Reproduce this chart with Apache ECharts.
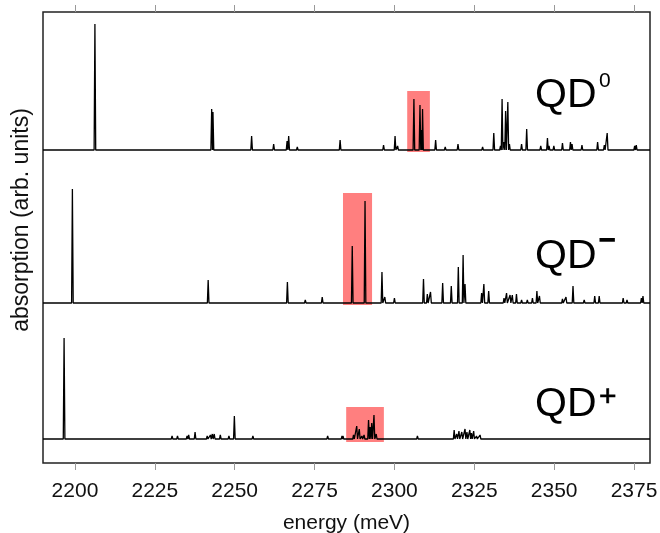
<!DOCTYPE html>
<html>
<head>
<meta charset="utf-8">
<script src="https://cdn.jsdelivr.net/npm/echarts@6/dist/echarts.min.js"></script>
<style>
html,body{margin:0;padding:0;background:#fff;}
#chart{width:660px;height:533px;}
</style>
</head>
<body>
<div id="chart"></div>
<script>
// ---- data ----
const xMin = 2190, xMax = 2380;
const tickLabels = [2200, 2225, 2250, 2275, 2300, 2325, 2350, 2375];

// vertical offsets (arb. units) of the three stacked spectra
const qd0Offset = 313;
const qdmOffset = 160;
const qdpOffset = 24;

// QD0 peaks: energy (meV) and height (arb. units)
const qd0Energy = [2206.25,2242.8,2243.2,2255.3,2262.2,2266.4,2266.9,2269.6,2283.0,2290.8,2296.6,2300.2,2301.0,2306.1,2308.0,2308.4,2308.8,2312.9,2315.9,2319.9,2327.6,2331.1,2333.2,2333.7,2334.3,2334.8,2335.5,2336.0,2339.8,2341.4,2343.4,2345.8,2347.9,2348.4,2349.9,2352.6,2355.1,2355.6,2358.7,2361.3,2363.6,2365.7,2366.6,2370.3,2372.1,2375.2,2375.7,2378.9];
const qd0Height = [126,41,38,14,6,9,14,3,10,2,5,14,4,51,45,20,41,10,3,6,3,17,4,51,8,39,48,6,6,21,2,4,12,4,4,7,8,6,5,2,8,5,17,2,2,4,5,2];

// QD- peaks
const qdmEnergy = [2199.2,2241.7,2266.5,2272.1,2277.4,2280.3,2286.8,2290.8,2296.1,2297.0,2300.0,2305.6,2309.1,2310.3,2311.3,2315.1,2317.8,2320.0,2321.5,2322.1,2327.3,2328.0,2329.5,2332.0,2334.3,2335.1,2336.2,2336.9,2338.2,2339.8,2341.6,2343.2,2344.6,2345.4,2348.7,2350.8,2352.6,2353.7,2355.9,2357.6,2359.4,2362.7,2364.1,2365.8,2367.4,2369.8,2371.6,2372.8,2374.7,2377.3,2377.8];
const qdmHeight = [114,23,21,3,6,1.5,57,102,31,6,5,1,24,9,11,20,17,36,48,19,10,19,12,2,5,10,8,8,9,3,3,5,12,7,2,2,4,6,17,2,3,7,7,2,2,2,5,3,2,5,7];

// QD+ peaks
const qdpEnergy = [2196.6,2227.1,2230.4,2232.1,2235.1,2235.6,2237.6,2241.4,2242.4,2243.0,2243.6,2245.5,2248.2,2249.9,2252.0,2255.7,2259.6,2262.7,2266.4,2270.0,2274.2,2279.1,2283.6,2283.9,2287.2,2288.2,2289.0,2289.8,2290.5,2291.9,2292.4,2292.9,2293.6,2294.3,2295.5,2299.7,2307.2,2310.1,2316.9,2318.7,2319.5,2320.2,2321.1,2322.1,2322.7,2323.6,2324.1,2324.8,2325.7,2326.8,2333.0,2339.3,2340.8,2347.6,2350.8,2355.9,2368.4,2371.6];
const qdpHeight = [101,2,3,3,3,4,7,3,4,5,5,4,3,23,2,3,1,1,2,1,1,3,3,3,4,13,10,3,4,19,12,16,24,5,2,1,3,2,2,9,5,8,7,10,7,9,6,8,3,4,1,2,2,1,1,1,1,1];

// highlighted regions: [energy from, energy to, value from, value to]
const boxQD0 = [2304.0, 2311.1, 311, 372];
const boxQDm = [2283.9, 2293.0, 158, 270];
const boxQDp = [2284.9, 2296.7, 21, 56];

// ---- build line data for the library ----
function buildLine(E, H, off) {
  const pts = [[xMin, off]];
  E.forEach((e, i) => {
    pts.push([e - 0.25, off], [e, off + H[i]], [e + 0.25, off]);
  });
  pts.push([xMax, off]);
  return pts;
}
function boxArea(b) {
  return [{ xAxis: b[0], yAxis: b[2] }, { xAxis: b[1], yAxis: b[3] }];
}

const FONT = 'Liberation Sans, Arial, Helvetica, sans-serif';
const chart = echarts.init(document.getElementById('chart'), null, { renderer: 'canvas' });

const lineSeries = (data) => ({
  type: 'line',
  data: data,
  showSymbol: false,
  symbol: 'none',
  z: 3,
  lineStyle: { color: '#000', width: 1.3 },
  silent: true
});

chart.setOption({
  animation: false,
  backgroundColor: '#fff',
  grid: {
    left: 43, right: 10, top: 12, bottom: 70,
    containLabel: false, outerBoundsMode: 'none',
    show: true, borderColor: '#222', borderWidth: 1.5, backgroundColor: 'transparent'
  },
  xAxis: [{
    type: 'value', min: xMin, max: xMax, position: 'bottom',
    axisLine: { show: false },
    splitLine: { show: false },
    axisTick: { show: true, customValues: tickLabels, length: 7, inside: false, lineStyle: { color: '#999', width: 1 } },
    axisLabel: { customValues: tickLabels, fontSize: 21, color: '#111', margin: 18, fontFamily: FONT, formatter: (v) => String(v) },
    name: 'energy (meV)', nameLocation: 'middle', nameGap: 50,
    nameTextStyle: { fontSize: 21, color: '#111', fontFamily: FONT }
  }, {
    type: 'value', min: xMin, max: xMax, position: 'top',
    axisLine: { show: false },
    splitLine: { show: false },
    axisTick: { show: true, customValues: tickLabels, length: 7, inside: false, lineStyle: { color: '#999', width: 1 } },
    axisLabel: { show: false }
  }],
  yAxis: {
    type: 'value', min: 0, max: 451,
    axisLine: { show: false }, axisTick: { show: false }, axisLabel: { show: false }, splitLine: { show: false }
  },
  series: [
    {
      type: 'line', data: [], z: 1, silent: true,
      markArea: {
        silent: true,
        itemStyle: { color: 'rgba(255,0,0,0.5)', borderWidth: 0 },
        data: [boxArea(boxQD0), boxArea(boxQDm), boxArea(boxQDp)]
      }
    },
    lineSeries(buildLine(qd0Energy, qd0Height, qd0Offset)),
    lineSeries(buildLine(qdmEnergy, qdmHeight, qdmOffset)),
    lineSeries(buildLine(qdpEnergy, qdpHeight, qdpOffset))
  ],
  graphic: [
    { type: 'text', x: 22, y: 220, rotation: Math.PI / 2, style: { text: 'absorption (arb. units)', fontSize: 23, fontFamily: FONT, fill: '#111', textAlign: 'center', verticalAlign: 'middle' } },
    { type: 'text', x: 535, y: 96, style: { text: 'QD', fontSize: 41, fontFamily: FONT, fill: '#000', textAlign: 'left', verticalAlign: 'middle' } },
    { type: 'text', x: 599, y: 81, style: { text: '0', fontSize: 21, fontFamily: FONT, fill: '#000', textAlign: 'left', verticalAlign: 'middle' } },
    { type: 'text', x: 535, y: 257, style: { text: 'QD', fontSize: 41, fontFamily: FONT, fill: '#000', textAlign: 'left', verticalAlign: 'middle' } },
    { type: 'text', x: 599, y: 241, style: { text: '−', fontSize: 28, fontFamily: FONT, fill: '#000', stroke: '#000', lineWidth: 1.8, textAlign: 'left', verticalAlign: 'middle' } },
    { type: 'text', x: 535, y: 405, style: { text: 'QD', fontSize: 41, fontFamily: FONT, fill: '#000', textAlign: 'left', verticalAlign: 'middle' } },
    { type: 'text', x: 599, y: 398, style: { text: '+', fontSize: 30, fontFamily: FONT, fill: '#000', stroke: '#000', lineWidth: 0.6, textAlign: 'left', verticalAlign: 'middle' } }
  ]
});
</script>
</body>
</html>
